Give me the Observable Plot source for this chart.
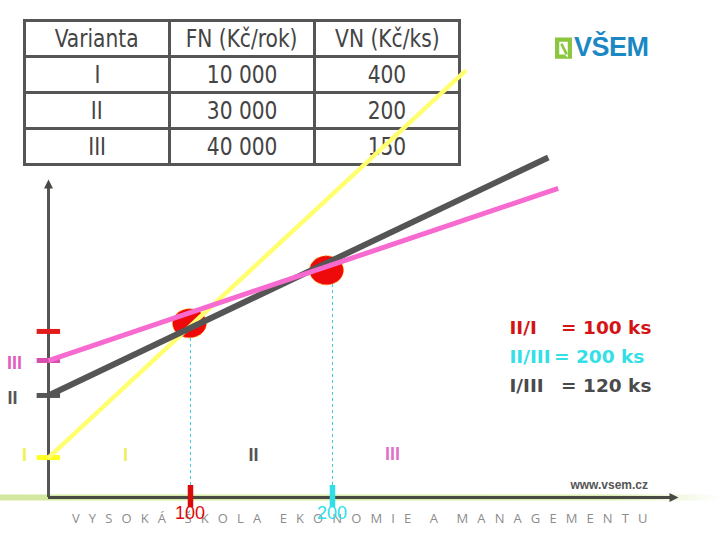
<!DOCTYPE html>
<html><head><meta charset="utf-8">
<script src="https://cdn.jsdelivr.net/npm/d3@7"></script>
<script src="https://cdn.jsdelivr.net/npm/@observablehq/plot@0.6"></script>
<style>
body{margin:0;background:#fff;}
#wrap{position:relative;width:720px;height:540px;overflow:hidden;background:#fff;}
#tbl{position:absolute;left:23px;top:19px;border-collapse:collapse;table-layout:fixed;}
#tbl td{border:3px solid #555;width:142px;height:33px;padding:0;text-align:center;vertical-align:middle;
  font-family:"DejaVu Sans Condensed","DejaVu Sans",sans-serif;font-size:25.5px;color:#444;line-height:1;}
#tbl td span{display:inline-block;transform:scaleX(0.88);}
#chart{position:absolute;left:0;top:0;}
#logo{position:absolute;left:555px;top:34px;display:flex;align-items:center;gap:2px;}
#logo .t{font-family:"Liberation Sans",Arial,sans-serif;font-weight:bold;font-size:27px;color:#1b88c4;letter-spacing:-0.5px;line-height:1;}
#web{position:absolute;right:72px;top:478px;font-family:"Liberation Sans",Arial,sans-serif;font-weight:bold;font-size:12px;color:#555;}
#foot{position:absolute;left:72px;top:509px;font-family:"Open Sans",sans-serif;font-size:13px;color:#8c8c8c;letter-spacing:9.1px;word-spacing:-3px;white-space:nowrap;}
</style></head>
<body>
<div id="wrap">
  <table id="tbl"></table>
  <div id="logo">
    <svg width="17" height="22" viewBox="0 0 16 20"><path d="M0 0H16V20H0Z M4 4V16H9L12 19V4Z" fill="#8cc63f" fill-rule="evenodd"/><path d="M6 6L11 16" stroke="#8cc63f" stroke-width="2.5"/></svg>
    <span class="t">VŠEM</span>
  </div>
  <div id="web">www.vsem.cz</div>
  <div id="foot">VYSOKÁ ŠKOLA EKONOMIE A MANAGEMENTU</div>
</div>
<script>
// ---- table data ----
const headers = ["Varianta", "FN (Kč/rok)", "VN (Kč/ks)"];
const variants = ["I", "II", "III"];
const fixedCosts = ["10 000", "30 000", "40 000"];
const unitCosts = ["400", "200", "150"];

// ---- cost lines (quantity ks, cost Kč), endpoints ----
const lineNames = ["I", "II", "III"];
const lineQ0 = [0, 0, 0];
const lineC0 = [11600, 29650, 39800];
const lineQ1 = [294, 352, 359];
const lineC1 = [124100, 98800, 89800];
const lineColors = ["#ffff70", "#555555", "#f76bd0"];

// ---- marks on the cost axis ----
const costMarks = [48250, 39800, 29650, 11600];
const costMarkColors = ["#e21b1b", "#d64fae", "#555555", "#ffff22"];

// ---- labels beside the cost axis ----
const sideLabels = ["III", "II", "I"];
const sideLabelQ = [-23.9, -25.4, -16.9];
const sideLabelC = [38950, 28780, 12200];
const sideLabelColors = ["#e05cc0", "#555555", "#f2f250"];

// ---- break-even points ----
const breakEvenQ = [100, 200];
const breakEvenLabels = ["100", "200"];
const breakEvenColors = ["#dd0a0a", "#2ee0e6"];
const circleQ = [99.3, 195.8];
const circleC = [50600, 66000];
const dashTopC = [47000, 62000];

// ---- region labels ----
const regionLabels = ["I", "II", "III"];
const regionQ = [54.2, 144.4, 242.3];
const regionC = [12200, 12200, 12500];
const regionColors = ["#eeee60", "#555555", "#e070c8"];

// ---- results ----
const resultNames = ["II/I", "II/III", "I/III"];
const resultValues = ["= 100 ks", "= 200 ks", "= 120 ks"];
const resultColors = ["#d41414", "#33e0e6", "#4a4a4a"];
const resultC = [49100, 40700, 32270];

// build table
const tbl = document.getElementById("tbl");
const rows = [headers, ...variants.map((v, i) => [v, fixedCosts[i], unitCosts[i]])];
for (const r of rows) {
  const tr = document.createElement("tr");
  for (const c of r) {
    const td = document.createElement("td");
    const sp = document.createElement("span");
    sp.textContent = c;
    td.appendChild(sp);
    tr.appendChild(td);
  }
  tbl.appendChild(tr);
}

const ellipse = {
  draw(ctx) {
    const rx = 17, ry = 14.5, k = 0.5523;
    ctx.moveTo(rx, 0);
    ctx.bezierCurveTo(rx, ry * k, rx * k, ry, 0, ry);
    ctx.bezierCurveTo(-rx * k, ry, -rx, ry * k, -rx, 0);
    ctx.bezierCurveTo(-rx, -ry * k, -rx * k, -ry, 0, -ry);
    ctx.bezierCurveTo(rx * k, -ry, rx, -ry * k, rx, 0);
    ctx.closePath();
  }
};
const arrowHead = {
  draw(ctx) {
    ctx.moveTo(0, 0); ctx.lineTo(-4.5, 9); ctx.lineTo(4.5, 9); ctx.closePath();
  }
};

const font = "Liberation Sans, Arial, sans-serif";
const chart = Plot.plot({
  width: 720, height: 540,
  margin: 0,
  style: {background: "transparent", overflow: "visible"},
  x: {domain: [0, 443.7], range: [48, 678], axis: null},
  y: {domain: [0, 92400], range: [497, 179], axis: null},
  color: {type: "identity"},
  marks: [
    Plot.ruleY([0], {x1: -34, x2: 473, stroke: "url(#band)", strokeWidth: 6}),
    Plot.ruleX([0], {y1: 0, y2: 90000, stroke: "#555", strokeWidth: 3}),
    Plot.ruleY([0], {x1: 0, x2: 439, stroke: "#4a4a44", strokeWidth: 3}),
    Plot.dot([{q: 0, c: 92400, r: 0}, {q: 443.7, c: 0, r: 90}], {x: "q", y: "c", rotate: "r", symbol: arrowHead, fill: "#4a4a44", stroke: "none"}),
    Plot.ruleY(costMarks, {y: d => d, x1: -8, x2: 8.5, stroke: costMarkColors, strokeWidth: 5}),
    Plot.ruleX(breakEvenQ, {x: d => d, y1: 3500, y2: dashTopC, stroke: "#3ccbd8", strokeWidth: 1, strokeDasharray: "3,3"}),
    Plot.dot(breakEvenQ, {x: circleQ, y: circleC, symbol: ellipse, fill: "#ee0a0a", stroke: "#ff9a00", strokeWidth: 1, strokeDasharray: "2,2"}),
    Plot.link([0], {x1: [lineQ0[0]], y1: [lineC0[0]], x2: [lineQ1[0]], y2: [lineC1[0]], stroke: lineColors[0], strokeWidth: 4.5}),
    Plot.link([1], {x1: [lineQ0[1]], y1: [lineC0[1]], x2: [lineQ1[1]], y2: [lineC1[1]], stroke: lineColors[1], strokeWidth: 6}),
    Plot.link([2], {x1: [lineQ0[2]], y1: [lineC0[2]], x2: [lineQ1[2]], y2: [lineC1[2]], stroke: lineColors[2], strokeWidth: 5}),
    Plot.ruleX(breakEvenQ, {x: d => d, y1: -2900, y2: 3500, stroke: breakEvenColors, strokeWidth: 5.5}),
    Plot.text(breakEvenLabels, {x: breakEvenQ, y: -4650, dx: [-6, 3], text: d => d, fill: breakEvenColors, fontSize: 18, fontFamily: font}),
    Plot.text(sideLabels, {x: sideLabelQ, y: sideLabelC, text: d => d, fill: sideLabelColors, fontSize: 18, fontWeight: "bold", fontFamily: font}),
    Plot.text(regionLabels, {x: regionQ, y: regionC, text: d => d, fill: regionColors, fontSize: 18, fontWeight: "bold", fontFamily: font}),
    Plot.text(resultNames, {x: 324.6, y: resultC, text: d => d, fill: resultColors, textAnchor: "start", fontSize: 18.5, fontWeight: "bold", fontFamily: "DejaVu Sans, sans-serif"}),
    Plot.text([0, 2], {x: 361, y: i => resultC[i], text: i => resultValues[i], fill: i => resultColors[i], textAnchor: "start", fontSize: 18.5, fontWeight: "bold", fontFamily: "DejaVu Sans, sans-serif"}),
    Plot.text([1], {x: 356, y: i => resultC[i], text: i => resultValues[i], fill: i => resultColors[i], textAnchor: "start", fontSize: 18.5, fontWeight: "bold", fontFamily: "DejaVu Sans, sans-serif"})
  ]
});
chart.insertAdjacentHTML("afterbegin",
  '<defs><linearGradient id="band" gradientUnits="userSpaceOnUse" x1="0" x2="720" y1="0" y2="0">' +
  '<stop offset="0" stop-color="#d3e79f"/><stop offset="0.85" stop-color="#dbedb2"/><stop offset="1" stop-color="#ffffff"/>' +
  '</linearGradient></defs>');
chart.id = "chart";
document.getElementById("wrap").appendChild(chart);
</script>
</body></html>
